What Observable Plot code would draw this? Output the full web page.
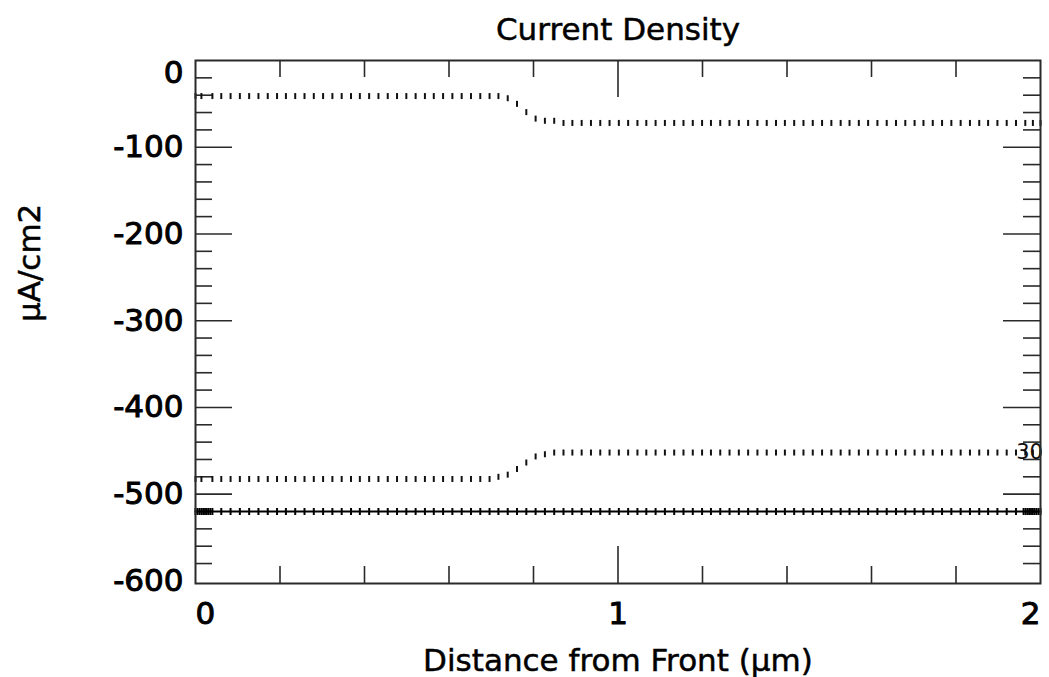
<!DOCTYPE html>
<html>
<head>
<meta charset="utf-8">
<script src="https://cdn.jsdelivr.net/npm/d3@7"></script>
<script src="https://cdn.jsdelivr.net/npm/@observablehq/plot@0.6"></script>
<style>
  html, body { margin: 0; padding: 0; background: #fff; }
</style>
</head>
<body>
<div id="chart"></div>
<script>
// Mesh positions along the device depth (µm)
const gridX = [
  0.040,0.061,0.083,0.105,0.127,0.149,0.171,0.193,0.214,0.236,
  0.258,0.280,0.302,0.324,0.346,0.368,0.389,0.411,0.433,0.455,
  0.477,0.499,0.521,0.543,0.564,0.586,0.608,0.630,0.652,0.674,
  0.696,0.717,0.739,0.761,0.783,0.805,0.827,0.849,0.871,0.892,
  0.914,0.936,0.958,0.980,1.002,1.024,1.046,1.067,1.089,1.111,
  1.133,1.155,1.177,1.199,1.220,1.242,1.264,1.286,1.308,1.330,
  1.352,1.374,1.395,1.417,1.439,1.461,1.483,1.505,1.527,1.548,
  1.570,1.592,1.614,1.636,1.658,1.680,1.702,1.723,1.745,1.767,
  1.789,1.811,1.833,1.855,1.876,1.898,1.920,1.942
];
const meshX = [0, 0.014, ...gridX, 1.964, 1.982, 2.0];
const totalMeshX = [0, 0.005, 0.010, 0.015, 0.020, 0.025, 0.030, 0.035, ...gridX,
  1.960, 1.965, 1.970, 1.975, 1.980, 1.985, 1.990, 1.995, 2.0];

// Current density components (µA/cm2)
const upperCurrent = [
  -41,-41,-41,-41,-41,-41,-41,-41,-41,-41,
  -41,-41,-41,-41,-41,-41,-41,-41,-41,-41,
  -41,-41,-41,-41,-41,-41,-41,-41,-41,-41,
  -41,-41,-41,-41,-43.5,-50,-59.5,-67,-69.5,-69.5,
  -72,-72,-72,-72,-72,-72,-72,-72,-72,-72,
  -72,-72,-72,-72,-72,-72,-72,-72,-72,-72,
  -72,-72,-72,-72,-72,-72,-72,-72,-72,-72,
  -72,-72,-72,-72,-72,-72,-72,-72,-72,-72,
  -72,-72,-72,-72,-72,-72,-72,-72,-72,-72,
  -72,-72,-72
];
const lowerCurrent = [
  -482.5,-482.5,-482.5,-482.5,-482.5,-482.5,-482.5,-482.5,-482.5,-482.5,
  -482.5,-482.5,-482.5,-482.5,-482.5,-482.5,-482.5,-482.5,-482.5,-482.5,
  -482.5,-482.5,-482.5,-482.5,-482.5,-482.5,-482.5,-482.5,-482.5,-482.5,
  -482.5,-482.5,-482.5,-480,-477.5,-471,-463.5,-456.5,-454,-452,
  -452,-452,-452,-452,-452,-452,-452,-452,-452,-452,
  -452,-452,-452,-452,-452,-452,-452,-452,-452,-452,
  -452,-452,-452,-452,-452,-452,-452,-452,-452,-452,
  -452,-452,-452,-452,-452,-452,-452,-452,-452,-452,
  -452,-452,-452,-452,-452,-452,-452,-452,-452,-452,
  -452,-452,-452
];
const totalCurrent = [
  -520,-520,-520,-520,-520,-520,-520,-520,-520,-520,
  -520,-520,-520,-520,-520,-520,-520,-520,-520,-520,
  -520,-520,-520,-520,-520,-520,-520,-520,-520,-520,
  -520,-520,-520,-520,-520,-520,-520,-520,-520,-520,
  -520,-520,-520,-520,-520,-520,-520,-520,-520,-520,
  -520,-520,-520,-520,-520,-520,-520,-520,-520,-520,
  -520,-520,-520,-520,-520,-520,-520,-520,-520,-520,
  -520,-520,-520,-520,-520,-520,-520,-520,-520,-520,
  -520,-520,-520,-520,-520,-520,-520,-520,-520,-520,
  -520,-520,-520,-520,-520,-520,-520,-520,-520,-520,
  -520,-520,-520,-520,-520
];

// Axis ticks and labels
const xTickLabels = [0, 1, 2];
const xMajor = [1];
const xMinor = [0.2, 0.4, 0.6, 0.8, 1.2, 1.4, 1.6, 1.8];
const yTickLabels = [0, -100, -200, -300, -400, -500, -600];
const yMajor = [-100, -200, -300, -400, -500];
const yMinor = [-20,-40,-60,-80,-120,-140,-160,-180,-220,-240,-260,-280,
  -320,-340,-360,-380,-420,-440,-460,-480,-520,-540,-560,-580];
const endTag = ["30"];

const titleText = "Current Density";
const xLabel = "Distance from Front (µm)";
const yLabel = "µA/cm2";

const upper = meshX.map((x, i) => ({x, y: upperCurrent[i]}));
const lower = meshX.map((x, i) => ({x, y: lowerCurrent[i]}));
const total = totalMeshX.map((x, i) => ({x, y: totalCurrent[i]}));

// short vertical bar marker
const vbar = h => ({draw(ctx) { ctx.rect(-1, -h / 2, 2, h); }});

const W = 1049, H = 677, ML = 195, MR = 9, MT = 60, MB = 94;
const FW = W - ML - MR, FH = H - MT - MB;
const minorLen = 17, majorLen = 37;
const tickStyle = {stroke: "#2a2a2a", strokeWidth: 1.6};
const font = "'DejaVu Sans', Verdana, sans-serif";
const labelText = {fontSize: 31, fill: "#000", stroke: "#000", strokeWidth: 0.5, lineAnchor: "middle"};
const tickText = {fontSize: 31, fill: "#000", stroke: "#000", strokeWidth: 1, lineAnchor: "middle"};

const chart = Plot.plot({
  width: W,
  height: H,
  marginLeft: ML,
  marginRight: MR,
  marginTop: MT,
  marginBottom: MB,
  x: {domain: [0, 2], axis: null},
  y: {domain: [-603, 0], axis: null},
  style: {fontFamily: font, background: "#fff", color: "#000", overflow: "visible"},
  marks: [
    // inward ticks on all four sides
    Plot.tickX(xMinor, {x: d => d, insetTop: FH - minorLen, ...tickStyle}),
    Plot.tickX(xMinor, {x: d => d, insetBottom: FH - minorLen, ...tickStyle}),
    Plot.tickX(xMajor, {x: d => d, insetTop: FH - majorLen, ...tickStyle}),
    Plot.tickX(xMajor, {x: d => d, insetBottom: FH - majorLen, ...tickStyle}),
    Plot.tickY(yMinor, {y: d => d, insetRight: FW - minorLen, ...tickStyle}),
    Plot.tickY(yMinor, {y: d => d, insetLeft: FW - minorLen, ...tickStyle}),
    Plot.tickY(yMajor, {y: d => d, insetRight: FW - majorLen, ...tickStyle}),
    Plot.tickY(yMajor, {y: d => d, insetLeft: FW - majorLen, ...tickStyle}),

    // series
    Plot.line(total, {x: "x", y: "y", stroke: "#000", strokeWidth: 2}),
    Plot.dot(total, {x: "x", y: "y", symbol: vbar(7), r: 3, fill: "#000", stroke: "none"}),
    Plot.dot(upper, {x: "x", y: "y", symbol: vbar(6), r: 3, fill: "#111", stroke: "none"}),
    Plot.dot(lower, {x: "x", y: "y", symbol: vbar(6), r: 3, fill: "#111", stroke: "none"}),
    Plot.text(endTag, {x: () => 2, y: () => lowerCurrent[lowerCurrent.length - 1], text: d => d,
      dx: -11, fontSize: 21, fill: "#111", lineAnchor: "middle", style: "letter-spacing:-4px"}),

    Plot.frame({stroke: "#2a2a2a", strokeWidth: 2}),

    // y tick labels
    Plot.text(yTickLabels.filter(d => d !== 0), {y: d => d, text: d => String(d), frameAnchor: "left",
      dx: -12, textAnchor: "end", ...tickText}),
    Plot.text(yTickLabels.filter(d => d === 0), {y: d => d, text: d => String(d), frameAnchor: "left",
      dx: -12, dy: 13, textAnchor: "end", ...tickText}),

    // x tick labels (end labels kept inside the frame width)
    Plot.text(xTickLabels.filter(d => d === 0), {x: d => d, text: d => String(d), frameAnchor: "bottom",
      dy: 31, textAnchor: "start", ...tickText}),
    Plot.text(xTickLabels.filter(d => d === 1), {x: d => d, text: d => String(d), frameAnchor: "bottom",
      dy: 31, textAnchor: "middle", ...tickText}),
    Plot.text(xTickLabels.filter(d => d === 2), {x: d => d, text: d => String(d), frameAnchor: "bottom",
      dy: 31, textAnchor: "end", ...tickText}),

    // titles
    Plot.text([titleText], {frameAnchor: "top", dy: -30, ...labelText}),
    Plot.text([xLabel], {frameAnchor: "bottom", dy: 78, ...labelText}),
    Plot.text([yLabel], {frameAnchor: "left", dx: -165, rotate: -90, ...labelText})
  ]
});

document.getElementById("chart").appendChild(chart);
</script>
</body>
</html>
